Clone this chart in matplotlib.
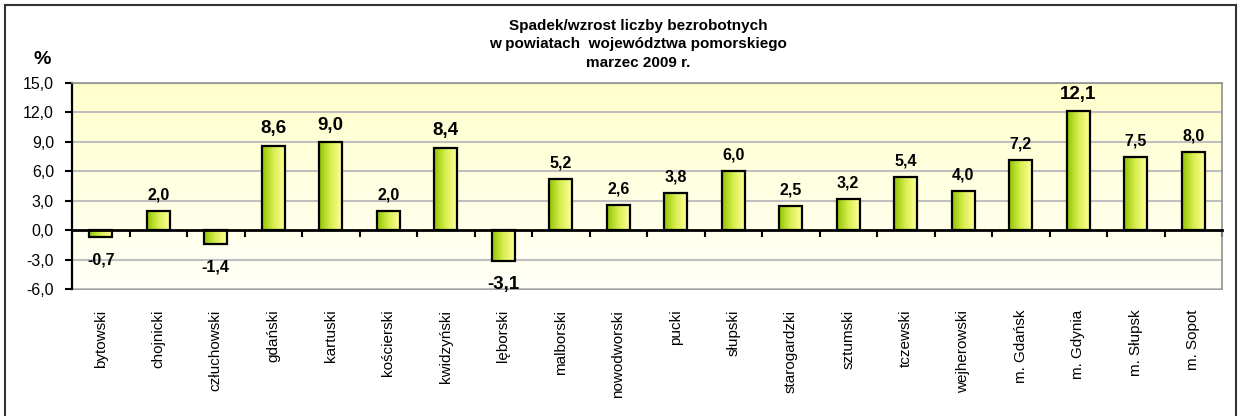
import numpy as np
import matplotlib
matplotlib.use("Agg")
import matplotlib.pyplot as plt
from matplotlib.colors import LinearSegmentedColormap
from matplotlib.lines import Line2D

categories = ["bytowski", "chojnicki", "człuchowski", "gdański", "kartuski",
              "kościerski", "kwidzyński", "lęborski", "malborski", "nowodworski",
              "pucki", "słupski", "starogardzki", "sztumski", "tczewski",
              "wejherowski", "m. Gdańsk", "m. Gdynia", "m. Słupsk", "m. Sopot"]
values = [-0.7, 2.0, -1.4, 8.6, 9.0, 2.0, 8.4, -3.1, 5.2, 2.6,
          3.8, 6.0, 2.5, 3.2, 5.4, 4.0, 7.2, 12.1, 7.5, 8.0]
big_labels = ["gdański", "kartuski", "kwidzyński", "lęborski", "m. Gdynia"]
yticks = [-6, -3, 0, 3, 6, 9, 12, 15]
ytick_labels = ["-6,0", "-3,0", "0,0", "3,0", "6,0", "9,0", "12,0", "15,0"]
title = "Spadek/wzrost liczby bezrobotnych\nw powiatach  województwa pomorskiego\nmarzec 2009 r."

plt.rcParams['font.family'] = ['Liberation Sans', 'DejaVu Sans']

W, H = 1239, 416
fig = plt.figure(figsize=(W / 100, H / 100), dpi=100)
ax = fig.add_axes([72 / W, 1 - 289 / H, (1222 - 72) / W, (289 - 83) / H])

n = len(categories)
x = np.arange(n)
ax.set_xlim(-0.5, n - 0.5)
ax.set_ylim(yticks[0], yticks[-1])

# background gradient
bg = LinearSegmentedColormap.from_list("bg", ["#FFFFF8", "#FFFFCC"])
ax.imshow(np.linspace(0, 1, 256).reshape(-1, 1), cmap=bg, aspect="auto",
          extent=[0, 1, 0, 1], origin="lower", transform=ax.transAxes, zorder=0)

# grid
for t in yticks:
    if t != 0:
        ax.axhline(t, color="#BFBFBF", lw=1.5, zorder=1)

# bars with gradient
barcm = LinearSegmentedColormap.from_list("bar", ["#90C400", "#D8EE50", "#FFFF99"])
grad = np.linspace(0, 1, 256).reshape(1, -1)
bars = ax.bar(x, values, width=0.4, facecolor="none", edgecolor="black",
              linewidth=1.6, zorder=4)
for b in bars:
    x0, y0 = b.get_x(), b.get_y()
    w, h = b.get_width(), b.get_height()
    im = ax.imshow(grad, cmap=barcm, aspect="auto",
                   extent=[x0, x0 + w, min(y0, y0 + h), max(y0, y0 + h)],
                   zorder=3)
    im.set_clip_path(b)

ax.set_xlim(-0.5, n - 0.5)
ax.set_ylim(yticks[0], yticks[-1])

# value labels
for xi, v, c in zip(x, values, categories):
    big = c in big_labels
    fs = 13.5 if big else 11.5
    lab = f"{v:.1f}".replace(".", ",")
    if v >= 0:
        ax.annotate(lab, (xi, v), xytext=(0, 6), textcoords="offset points",
                    ha="center", va="bottom", fontsize=fs, fontweight="bold", zorder=6)
    else:
        ax.annotate(lab, (xi, v), xytext=(0, -11), textcoords="offset points",
                    ha="center", va="top", fontsize=fs, fontweight="bold", zorder=6)

# spines
ax.spines["left"].set_color("black")
ax.spines["left"].set_linewidth(1.6)
ax.spines["top"].set_color("#909090")
ax.spines["right"].set_color("#909090")
ax.spines["top"].set_linewidth(1.2)
ax.spines["right"].set_linewidth(1.2)
ax.spines["bottom"].set_position(("data", 0))
ax.spines["bottom"].set_color("black")
ax.spines["bottom"].set_linewidth(2)
ax.spines["bottom"].set_zorder(5)

ax.set_xticks(np.arange(n + 1) - 0.5)
ax.set_xticklabels([])
ax.tick_params(axis="x", direction="out", length=5, width=1.5, color="black")

ax.set_yticks(yticks)
ax.set_yticklabels(ytick_labels)
ax.tick_params(axis="y", direction="out", length=5, width=1.5, pad=8,
               labelsize=11.5)

sec = ax.secondary_xaxis("bottom")
sec.set_xticks(x)
sec.set_xticklabels(categories, rotation=90, va="top", ha="center", fontsize=11)
sec.tick_params(length=0, pad=15)
sec.spines["bottom"].set_color("#909090")
sec.spines["bottom"].set_linewidth(1.2)

# title and unit
fig.text(638 / W, 1 - 19 / H, title, ha="center", va="top", fontsize=11,
         fontweight="bold", linespacing=1.4)
fig.text(42 / W, 1 - 59 / H, "%", ha="center", va="center", fontsize=14,
         fontweight="bold")

# outer frame
fig.add_artist(Line2D([5 / W, 5 / W], [0, 1 - 5 / H], color="#333333", lw=1.5,
                      transform=fig.transFigure))
fig.add_artist(Line2D([5 / W, 1236 / W], [1 - 5 / H, 1 - 5 / H], color="#333333",
                      lw=1.5, transform=fig.transFigure))
fig.add_artist(Line2D([1236 / W, 1236 / W], [0, 1 - 5 / H], color="#333333",
                      lw=1.5, transform=fig.transFigure))

fig.savefig("out.png", dpi=100)
